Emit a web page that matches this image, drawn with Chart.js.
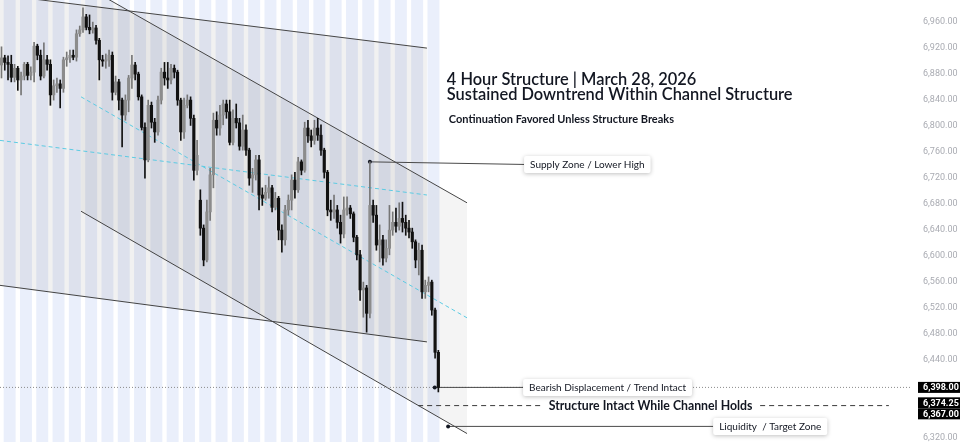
<!DOCTYPE html>
<html>
<head>
<meta charset="utf-8">
<title>4 Hour Structure</title>
<script src="https://cdn.jsdelivr.net/npm/chart.js@4.4.1/dist/chart.umd.min.js"></script>
<style>
  html, body { margin: 0; padding: 0; background: #fff; }
  #wrap { width: 960px; height: 442px; }
</style>
</head>
<body>
<div id="wrap"><canvas id="chart" width="960" height="442"></canvas></div>
<script>
// 4h candles, oldest first
const opens = [6894, 6905, 6898, 6895, 6875, 6889, 6871, 6877, 6895, 6878,
  6883, 6923, 6909, 6877, 6902, 6895, 6848, 6862, 6865, 6858,
  6902, 6905, 6909, 6906, 6942, 6948, 6968, 6952, 6948, 6951,
  6932, 6902, 6900, 6902, 6909, 6852, 6868, 6840, 6817, 6840,
  6874, 6894, 6880, 6845, 6798, 6748, 6832, 6806, 6791, 6840,
  6883, 6874, 6871, 6889, 6883, 6840, 6791, 6832, 6840, 6812,
  6732, 6686, 6643, 6594, 6668, 6725, 6809, 6797, 6817, 6834,
  6822, 6775, 6812, 6805, 6769, 6794, 6763, 6720, 6725, 6748,
  6694, 6689, 6698, 6705, 6675, 6689, 6640, 6625, 6671, 6686,
  6717, 6702, 6745, 6732, 6797, 6785, 6778, 6797, 6786, 6763,
  6729, 6671, 6668, 6671, 6652, 6634, 6671, 6674, 6665, 6629,
  6602, 6548, 6551, 6512, 6678, 6663, 6617, 6625, 6597, 6612,
  6640, 6652, 6646, 6658, 6652, 6643, 6637, 6622, 6594, 6609,
  6545, 6555, 6560, 6517, 6452];
const highs = [6922, 6909, 6908, 6909, 6895, 6892, 6883, 6898, 6898, 6891,
  6929, 6926, 6917, 6928, 6909, 6902, 6871, 6874, 6871, 6906,
  6914, 6917, 6917, 6948, 6954, 6982, 6972, 6971, 6960, 6955,
  6935, 6909, 6911, 6917, 6914, 6877, 6872, 6843, 6848, 6878,
  6909, 6898, 6883, 6848, 6805, 6840, 6837, 6812, 6846, 6889,
  6898, 6898, 6895, 6894, 6886, 6843, 6843, 6848, 6845, 6817,
  6778, 6702, 6648, 6686, 6735, 6820, 6822, 6832, 6840, 6840,
  6840, 6825, 6834, 6812, 6817, 6802, 6766, 6735, 6755, 6755,
  6705, 6709, 6722, 6709, 6698, 6692, 6648, 6678, 6694, 6725,
  6729, 6752, 6748, 6806, 6809, 6794, 6809, 6812, 6802, 6766,
  6732, 6686, 6694, 6678, 6663, 6691, 6691, 6678, 6668, 6632,
  6609, 6560, 6555, 6745, 6686, 6678, 6648, 6632, 6625, 6678,
  6668, 6674, 6682, 6683, 6663, 6655, 6643, 6625, 6620, 6617,
  6563, 6568, 6563, 6520, 6455];
const lows = [6874, 6886, 6871, 6868, 6868, 6855, 6848, 6871, 6871, 6871,
  6868, 6902, 6871, 6874, 6886, 6832, 6840, 6852, 6828, 6852,
  6892, 6898, 6902, 6900, 6938, 6944, 6948, 6942, 6943, 6926,
  6871, 6892, 6889, 6892, 6840, 6848, 6825, 6768, 6809, 6822,
  6858, 6871, 6840, 6794, 6720, 6745, 6797, 6775, 6786, 6834,
  6863, 6858, 6865, 6874, 6832, 6778, 6781, 6828, 6801, 6717,
  6725, 6632, 6585, 6591, 6655, 6705, 6786, 6786, 6802, 6812,
  6771, 6771, 6797, 6763, 6763, 6755, 6709, 6698, 6717, 6671,
  6678, 6686, 6689, 6668, 6671, 6625, 6606, 6617, 6663, 6671,
  6689, 6698, 6725, 6729, 6775, 6768, 6772, 6778, 6755, 6720,
  6662, 6655, 6658, 6643, 6620, 6628, 6663, 6658, 6622, 6594,
  6532, 6506, 6483, 6505, 6652, 6609, 6591, 6586, 6591, 6602,
  6632, 6637, 6640, 6637, 6632, 6628, 6612, 6582, 6571, 6535,
  6535, 6545, 6509, 6443, 6391];
const closes = [6905, 6898, 6895, 6875, 6889, 6871, 6877, 6895, 6878, 6883,
  6923, 6909, 6877, 6902, 6895, 6848, 6862, 6865, 6858, 6902,
  6905, 6909, 6906, 6942, 6948, 6968, 6952, 6948, 6951, 6932,
  6902, 6900, 6902, 6909, 6852, 6868, 6840, 6817, 6840, 6874,
  6894, 6880, 6845, 6798, 6748, 6832, 6806, 6791, 6840, 6883,
  6874, 6871, 6889, 6883, 6840, 6791, 6832, 6840, 6812, 6732,
  6755, 6643, 6594, 6668, 6725, 6809, 6797, 6817, 6834, 6822,
  6775, 6812, 6805, 6769, 6794, 6763, 6720, 6725, 6748, 6694,
  6689, 6698, 6705, 6675, 6689, 6640, 6625, 6671, 6686, 6717,
  6702, 6745, 6732, 6797, 6785, 6778, 6797, 6786, 6763, 6729,
  6671, 6668, 6671, 6652, 6634, 6671, 6674, 6665, 6629, 6602,
  6548, 6551, 6512, 6678, 6663, 6617, 6625, 6597, 6612, 6640,
  6652, 6646, 6658, 6652, 6643, 6637, 6622, 6594, 6609, 6545,
  6555, 6560, 6517, 6452, 6398];

// price scale
const priceTicks = [6320, 6440, 6480, 6520, 6560, 6600, 6640, 6680, 6720, 6760, 6800, 6840, 6880, 6920, 6960];
const markedPrices = [6398, 6374.25, 6367];
const lastPrice = 6398;
const structureLevel = 6370;

// drawings, as [bar index, price]
const outerUpper = [[-0.46, 7002], [130.5, 6920]];
const outerLower = [[-0.46, 6555], [130.5, 6468]];
const outerMid = [[-0.46, 6778], [130.5, 6694]];
const innerUpper = [[24.4, 7019], [142.8, 6682]];
const innerLower = [[24.4, 6669], [142.8, 6327]];
const innerMid = [[24.4, 6845], [142.8, 6505]];

const titleLines = ['4 Hour Structure | March 28, 2026', 'Sustained Downtrend Within Channel Structure'];
const subTitle = 'Continuation Favored Unless Structure Breaks';
const structureText = 'Structure Intact While Channel Holds';
const callouts = [
  { text: 'Supply Zone / Lower High', from: [113.0, 6745], to: [160.3, 6741] },
  { text: 'Bearish Displacement / Trend Intact', from: [132.9, 6398], to: [160.0, 6398] },
  { text: 'Liquidity  / Target Zone', from: [137.0, 6338], to: [218.3, 6338] }
];

const pts = arr => arr.map(([x, y]) => ({ x, y }));
const isUp = closes.map((c, i) => c >= opens[i]);

// session shading, one band every 5 bars
const stripes = [];
for (let i = 2.5; i < closes.length; i += 5) stripes.push({ x: i, y: [6000, 7200] });

const fmt = v => v.toLocaleString('en-US', { minimumFractionDigits: 2, maximumFractionDigits: 2 });

function roundRect(ctx, x, y, w, h, r) {
  ctx.beginPath();
  ctx.moveTo(x + r, y);
  ctx.lineTo(x + w - r, y);
  ctx.quadraticCurveTo(x + w, y, x + w, y + r);
  ctx.lineTo(x + w, y + h - r);
  ctx.quadraticCurveTo(x + w, y + h, x + w - r, y + h);
  ctx.lineTo(x + r, y + h);
  ctx.quadraticCurveTo(x, y + h, x, y + h - r);
  ctx.lineTo(x, y + r);
  ctx.quadraticCurveTo(x, y, x + r, y);
  ctx.closePath();
}

const notesPlugin = {
  id: 'notes',
  afterDatasetsDraw(chart) {
    const { ctx, scales: { x, y } } = chart;
    ctx.save();
    ctx.fillStyle = '#131722';
    ctx.textBaseline = 'alphabetic';
    const tx = x.getPixelForValue(136.6);
    ctx.font = '600 16.4px Lato';
    ctx.fillText(titleLines[0], tx, y.getPixelForValue(6863));
    ctx.fillText(titleLines[1], tx, y.getPixelForValue(6840));
    ctx.font = 'bold 11px Lato';
    ctx.fillText(subTitle, tx + 2, y.getPixelForValue(6805));

    // structure line label
    ctx.font = 'bold 12.3px Lato';
    ctx.textBaseline = 'middle';
    const sw = ctx.measureText(structureText).width;
    const sx = x.getPixelForValue(199.1);
    const sy = y.getPixelForValue(structureLevel);
    ctx.fillStyle = '#fff';
    ctx.fillRect(sx - sw / 2 - 6, sy - 7, sw + 12, 14);
    ctx.fillStyle = '#131722';
    ctx.textAlign = 'center';
    ctx.fillText(structureText, sx, sy + 0.5);
    ctx.textAlign = 'left';

    // callout boxes
    ctx.font = '10px Lato';
    callouts.forEach(c => {
      const left = x.getPixelForValue(c.to[0]);
      const cy = y.getPixelForValue(c.to[1]);
      const w = ctx.measureText(c.text).width + 12;
      const h = 17;
      ctx.save();
      ctx.shadowColor = 'rgba(0,0,0,0.25)';
      ctx.shadowBlur = 4;
      ctx.shadowOffsetY = 1;
      ctx.fillStyle = '#fff';
      roundRect(ctx, left, cy - h / 2, w, h, 2);
      ctx.fill();
      ctx.restore();
      ctx.fillStyle = '#131722';
      ctx.fillText(c.text, left + 6, cy + 0.5);
    });
    ctx.restore();
  },
  afterDraw(chart) {
    const { ctx, scales: { y }, chartArea } = chart;
    ctx.save();
    ctx.font = 'bold 9px Roboto';
    ctx.textBaseline = 'middle';
    const h = 11;
    let prevBottom = -Infinity;
    markedPrices.forEach(p => {
      let top = Math.max(y.getPixelForValue(p) - h / 2, prevBottom);
      ctx.fillStyle = '#000';
      ctx.fillRect(chartArea.right + 6, top, 960 - chartArea.right - 6, h);
      ctx.fillStyle = '#fff';
      ctx.fillText(fmt(p), chartArea.right + 11, top + h / 2 + 0.5);
      prevBottom = top + h;
    });
    ctx.restore();
  }
};

const lineSet = (data, color, extra) => Object.assign({
  type: 'line', data: pts(data), borderColor: color, borderWidth: 1,
  pointRadius: 0, pointHoverRadius: 0, fill: false, tension: 0, order: 5
}, extra);

const calloutSets = callouts.map(c => lineSet([c.from, c.to], '#4a4a4a', {
  order: 4,
  pointRadius: ctx => ctx.dataIndex === 0 ? 2 : 0,
  pointBackgroundColor: '#131722',
  pointBorderWidth: 0
}));

new Chart(document.getElementById('chart'), {
  type: 'bar',
  data: {
    datasets: [
      { type: 'bar', data: stripes, backgroundColor: '#eaeffb', barThickness: 11.3, grouped: false, order: 20 },
      lineSet(outerUpper, '#454545', { fill: '+1', backgroundColor: 'rgba(0,0,0,0.055)', order: 8 }),
      lineSet(outerLower, '#454545', { order: 8 }),
      lineSet(innerUpper, '#454545', { fill: '+1', backgroundColor: 'rgba(0,0,0,0.045)', order: 7 }),
      lineSet(innerLower, '#454545', { order: 7 }),
      lineSet(outerMid, '#5ccbe3', { borderDash: [4, 3] }),
      lineSet(innerMid, '#5ccbe3', { borderDash: [4, 3] }),
      lineSet([[-0.46, lastPrice], [279.29, lastPrice]], '#8a8a8a', { borderDash: [1, 2], order: 6 }),
      lineSet([[127.8, structureLevel], [272.2, structureLevel]], '#3a3a3a', { borderDash: [5, 4], order: 6 }),
      ...calloutSets,
      {
        type: 'bar', data: closes.map((c, i) => ({ x: i, y: [lows[i], highs[i]] })),
        backgroundColor: isUp.map(u => u ? '#767676' : '#111111'),
        barThickness: 1, grouped: false, order: 2
      },
      {
        type: 'bar', data: closes.map((c, i) => ({ x: i, y: [opens[i], c] })),
        backgroundColor: isUp.map(u => u ? '#8c8c8c' : '#111111'),
        barThickness: 2.5, minBarLength: 1, grouped: false, order: 1
      }
    ]
  },
  options: {
    responsive: false,
    animation: false,
    devicePixelRatio: 1,
    events: [],
    layout: { padding: 0, autoPadding: false },
    plugins: { legend: { display: false }, tooltip: { enabled: false } },
    scales: {
      x: { type: 'linear', min: -0.46, max: 279.29, offset: false, display: false },
      y: {
        position: 'right', min: 6314, max: 6994,
        grid: { display: false, drawTicks: false },
        border: { display: false },
        ticks: { color: '#a9abb2', padding: 11, font: { family: 'Roboto', size: 9 }, callback: v => fmt(v) },
        afterBuildTicks: axis => { axis.ticks = priceTicks.map(v => ({ value: v })); },
        afterFit: axis => { axis.width = 48; axis.paddingTop = 0; axis.paddingBottom = 0; }
      }
    }
  },
  plugins: [notesPlugin]
});
</script>
</body>
</html>
